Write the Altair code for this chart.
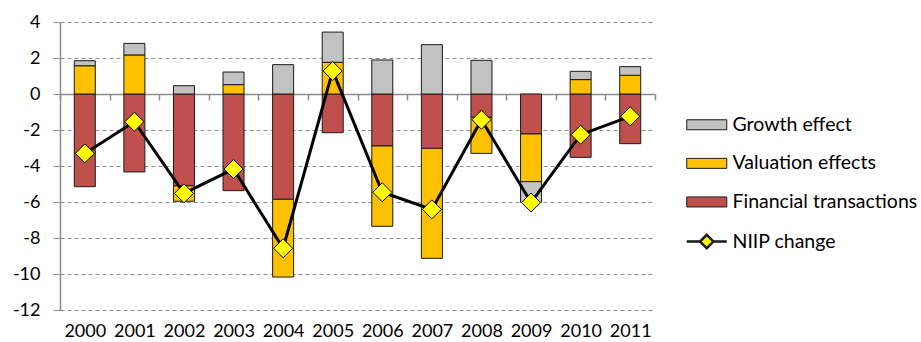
import altair as alt
import pandas as pd

# Contributions to the yearly change in the net international investment position
years = ["2000", "2001", "2002", "2003", "2004", "2005",
         "2006", "2007", "2008", "2009", "2010", "2011"]
financial_transactions = [-5.15, -4.33, -5.10, -5.37, -5.85, -2.15,
                          -2.89, -3.02, -1.30, -2.22, -3.52, -2.76]
valuation_effects = [1.57, 2.17, -0.86, 0.52, -4.32, 1.76,
                     -4.46, -6.11, -2.00, -2.65, 0.80, 1.04]
growth_effect = [0.28, 0.64, 0.46, 0.70, 1.63, 1.68,
                 1.89, 2.74, 1.87, -1.15, 0.46, 0.48]
niip_change = [-3.30, -1.54, -5.52, -4.17, -8.57, 1.28,
               -5.46, -6.41, -1.43, -6.03, -2.26, -1.24]

legend_order = ["Growth effect", "Valuation effects",
                "Financial transactions", "NIIP change"]
fill_colors = ["#c2c2c2", "#ffc000", "#c0504d", "#ffff00"]
y_ticks = [-12, -10, -8, -6, -4, -2, 0, 2, 4]

FONT = "Lato"
GRID = "#8c8c8c"

# Stacking order away from zero: transactions, valuation, growth
bar_rows = []
for i, y in enumerate(years):
    for k, (name, vals) in enumerate([("Financial transactions", financial_transactions),
                                      ("Valuation effects", valuation_effects),
                                      ("Growth effect", growth_effect)]):
        bar_rows.append({"year": y, "series": name, "value": vals[i], "k": k})
bars_df = pd.DataFrame(bar_rows)
line_df = pd.DataFrame({"year": years, "value": niip_change, "series": "NIIP change"})

# Legend swatches: wide boxes for the bars, a line with a diamond for NIIP
rect_path = "M-2,-0.5H2V0.5H-2Z"
niip_path = "M-2,0H-0.67M0.67,0H2M0,-0.67L0.67,0L0,0.67L-0.67,0Z"
is_niip = "datum.value === 'NIIP change'"

fill_scale = alt.Scale(domain=legend_order, range=fill_colors)
legend = alt.Legend(
    title=None, orient="none", legendX=637, legendY=93, padding=0,
    symbolSize=400, rowPadding=17.6, labelOffset=16,
    labelFont=FONT, labelFontSize=19.5, labelColor="#000000", labelLimit=300,
    symbolStrokeColor="#1a1a1a", symbolOpacity=1,
    symbolType=alt.ExprRef(expr=f"{is_niip} ? '{niip_path}' : '{rect_path}'"),
    symbolStrokeWidth=alt.ExprRef(expr=f"{is_niip} ? 2.5 : 1"),
)

x_axis = alt.Axis(orient="bottom", offset=-216, tickBand="extent", tickSize=6,
                  tickColor=GRID, tickWidth=1.5, domainColor=GRID, domainWidth=1.5,
                  labelPadding=222, labelFont=FONT, labelFontSize=18,
                  labelColor="#000000", labelAngle=0, grid=False, labelOverlap=False)
y_scale = alt.Scale(domain=[-12, 4], nice=False, zero=False)
y_axis = alt.Axis(values=y_ticks, title=None, tickSize=7, tickColor=GRID, tickWidth=1,
                  domainColor=GRID, domainWidth=1.5, labelPadding=13,
                  labelFont=FONT, labelFontSize=18, labelColor="#000000",
                  labelOverlap=False, labelExpr="'' + datum.value",
                  grid=True, gridColor=GRID, gridDash=[4, 3], gridWidth=1)


def x_enc(band_pos):
    return alt.X("year:N", sort=years, title=None, bandPosition=band_pos,
                 scale=alt.Scale(paddingInner=0, paddingOuter=0), axis=x_axis)


def y_enc(stack):
    return alt.Y("value:Q", stack=stack, scale=y_scale, axis=y_axis)


bars = alt.Chart(bars_df).mark_bar(size=21, stroke="#1a1a1a", strokeWidth=1).encode(
    x=x_enc(0.5),
    y=y_enc("zero"),
    fill=alt.Fill("series:N", scale=fill_scale, legend=legend),
    order=alt.Order("k:Q"),
)

line = alt.Chart(line_df).mark_line(color="#000000", strokeWidth=3).encode(
    x=x_enc(0.5),
    y=y_enc(None),
)

points = alt.Chart(line_df).mark_point(
    shape="diamond", filled=True, size=361, stroke="#000000", strokeWidth=1, opacity=1
).encode(
    x=x_enc(0.5),
    y=y_enc(None),
    fill=alt.Fill("series:N", scale=fill_scale, legend=legend),
)

chart = alt.layer(bars, line, points).properties(
    width=595, height=288,
    padding={"left": 60, "top": 22, "right": 266, "bottom": 32},
    autosize=alt.AutoSizeParams(type="none"),
    background="#ffffff",
).configure_view(stroke=None)

chart.save("out.html", embed_options={"renderer": "svg", "actions": False})
